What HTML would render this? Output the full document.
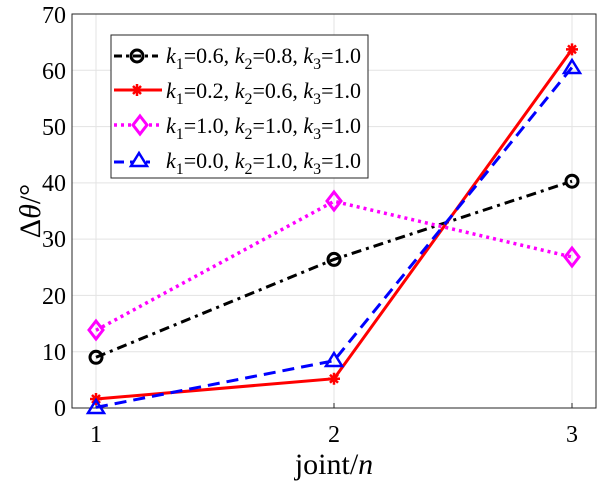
<!DOCTYPE html>
<html><head><style>body{margin:0;background:#fff}</style></head><body>
<svg width="600" height="485" xmlns="http://www.w3.org/2000/svg" font-family="Liberation Serif, serif">
<rect x="0" y="0" width="600" height="485" fill="#fff"/>
<g stroke="#e3e3e3" stroke-width="1">
<line x1="96" y1="14" x2="96" y2="408"/><line x1="334" y1="14" x2="334" y2="408"/><line x1="572" y1="14" x2="572" y2="408"/>
<line x1="72" y1="70.3" x2="596" y2="70.3"/><line x1="72" y1="126.6" x2="596" y2="126.6"/><line x1="72" y1="182.9" x2="596" y2="182.9"/>
<line x1="72" y1="239.1" x2="596" y2="239.1"/><line x1="72" y1="295.4" x2="596" y2="295.4"/><line x1="72" y1="351.7" x2="596" y2="351.7"/>
</g>
<rect x="72" y="14" width="524" height="394" fill="none" stroke="#262626" stroke-width="1"/>
<g stroke="#262626"><line x1="96" y1="408" x2="96" y2="403"/><line x1="334" y1="408" x2="334" y2="403"/><line x1="572" y1="408" x2="572" y2="403"/></g>
<g font-size="24" fill="#000" text-anchor="end">
<text x="66" y="416">0</text><text x="66" y="360">10</text><text x="66" y="304">20</text><text x="66" y="247">30</text><text x="66" y="191">40</text><text x="66" y="135">50</text><text x="66" y="79">60</text><text x="66" y="23">70</text>
</g>
<g font-size="24" fill="#000" text-anchor="middle">
<text x="96" y="442">1</text><text x="334" y="442">2</text><text x="572" y="442">3</text>
</g>
<text x="334" y="474" font-size="30" text-anchor="middle">joint/<tspan font-style="italic">n</tspan></text>
<text transform="translate(40,211) rotate(-90)" font-size="30" text-anchor="middle">Δ<tspan font-style="italic">θ</tspan>/°</text>
<polyline points="96,357.3 334,259.4 572,181.2" fill="none" stroke="#000" stroke-width="3" stroke-dasharray="10,5,3,5"/>
<polyline points="96,399 334,378.7 572,49.4" fill="none" stroke="#f00" stroke-width="3"/>
<polyline points="96,330.3 334,201.3 572,257" fill="none" stroke="#f0f" stroke-width="3.5" stroke-dasharray="3,4"/>
<polyline points="96,407.4 334,360.7 572,67.4" fill="none" stroke="#00f" stroke-width="3" stroke-dasharray="12,7"/>
<g fill="none" stroke="#000" stroke-width="3"><circle cx="96" cy="357.3" r="6"/><circle cx="334" cy="259.4" r="6"/><circle cx="572" cy="181.2" r="6"/></g>
<g stroke="#f00" stroke-width="2.5">
<path d="M90,399h12M96,393v12M92,395l8,8M100,395l-8,8"/><path d="M328,378.7h12M334,372.7v12M330,374.7l8,8M338,374.7l-8,8"/><path d="M566,49.4h12M572,43.4v12M568,45.4l8,8M576,45.4l-8,8"/></g>
<g fill="none" stroke="#f0f" stroke-width="3"><path d="M96,321l7,9l-7,9l-7,-9z"/><path d="M334,192l7,9l-7,9l-7,-9z"/><path d="M572,248l7,9l-7,9l-7,-9z"/></g>
<g fill="none" stroke="#00f" stroke-width="2.5"><path d="M96,400l8,13h-16z"/><path d="M334,353l8,13h-16z"/><path d="M572,60l8,13h-16z"/></g>
<rect x="111" y="35" width="257" height="143" fill="#fff" stroke="#262626" stroke-width="1"/>
<line x1="114" y1="56" x2="158" y2="56" stroke="#000" stroke-width="3" stroke-dasharray="8,4,3,4"/><circle cx="137" cy="56" r="6" fill="none" stroke="#000" stroke-width="3"/>
<line x1="114" y1="90" x2="162" y2="90" stroke="#f00" stroke-width="3"/><path d="M131,90h12M137,84v12M133,86l8,8M141,86l-8,8" stroke="#f00" stroke-width="2.5"/>
<line x1="114" y1="125" x2="162" y2="125" stroke="#f0f" stroke-width="3.5" stroke-dasharray="3,4"/><path d="M140,116l7,9l-7,9l-7,-9z" fill="#fff" stroke="#f0f" stroke-width="3"/>
<line x1="114" y1="162" x2="150" y2="162" stroke="#00f" stroke-width="3" stroke-dasharray="10,6"/><path d="M139,153l8,13h-16z" fill="#fff" stroke="#00f" stroke-width="2.5"/>
<g font-size="22" fill="#000">
<text x="166" y="63"><tspan font-style="italic">k</tspan><tspan font-size="16" dy="6">1</tspan><tspan dy="-6">=0.6, </tspan><tspan font-style="italic">k</tspan><tspan font-size="16" dy="6">2</tspan><tspan dy="-6">=0.8, </tspan><tspan font-style="italic">k</tspan><tspan font-size="16" dy="6">3</tspan><tspan dy="-6">=1.0</tspan></text>
<text x="166" y="98"><tspan font-style="italic">k</tspan><tspan font-size="16" dy="6">1</tspan><tspan dy="-6">=0.2, </tspan><tspan font-style="italic">k</tspan><tspan font-size="16" dy="6">2</tspan><tspan dy="-6">=0.6, </tspan><tspan font-style="italic">k</tspan><tspan font-size="16" dy="6">3</tspan><tspan dy="-6">=1.0</tspan></text>
<text x="166" y="133"><tspan font-style="italic">k</tspan><tspan font-size="16" dy="6">1</tspan><tspan dy="-6">=1.0, </tspan><tspan font-style="italic">k</tspan><tspan font-size="16" dy="6">2</tspan><tspan dy="-6">=1.0, </tspan><tspan font-style="italic">k</tspan><tspan font-size="16" dy="6">3</tspan><tspan dy="-6">=1.0</tspan></text>
<text x="166" y="168"><tspan font-style="italic">k</tspan><tspan font-size="16" dy="6">1</tspan><tspan dy="-6">=0.0, </tspan><tspan font-style="italic">k</tspan><tspan font-size="16" dy="6">2</tspan><tspan dy="-6">=1.0, </tspan><tspan font-style="italic">k</tspan><tspan font-size="16" dy="6">3</tspan><tspan dy="-6">=1.0</tspan></text>
</g>
</svg>
</body></html>
